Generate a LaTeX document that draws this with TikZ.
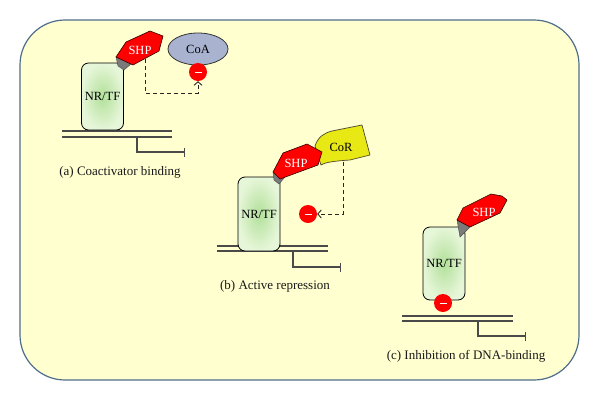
\documentclass[tikz,border=0pt]{standalone}
\usepackage{fontspec}
\setmainfont{Liberation Serif}
\usetikzlibrary{arrows.meta,shapes.geometric}
\definecolor{bgfill}{HTML}{FFFFD0}
\definecolor{bgline}{HTML}{4F6E8C}
\definecolor{nrin}{HTML}{B2E09A}
\definecolor{nrout}{HTML}{E6F6D8}
\definecolor{shpred}{HTML}{FF0000}
\definecolor{coafill}{HTML}{A9B3D0}
\definecolor{corfill}{HTML}{E8E814}
\definecolor{dnacol}{HTML}{4A4A4A}
\definecolor{linkgray}{HTML}{7A7A7A}
\begin{document}
\begin{tikzpicture}[x=1pt,y=-1pt,
  nrtf/.style={draw=black, line width=0.8pt, rounded corners=7pt, inner color=nrin, outer color=nrout,
    minimum width=42pt, font=\fontsize{12.5}{14}\selectfont, text=black, inner sep=0pt},
  shpbody/.style={fill=shpred, draw=black!80!red, line width=0.6pt, line join=round},
  shptext/.style={text=white, font=\fontsize{12.5}{14}\selectfont, inner sep=0pt},
  linker/.style={fill=linkgray, draw=black!70, line width=0.4pt},
  dnaline/.style={draw=dnacol, line width=1.3pt},
  promoter/.style={draw=dnacol, line width=1.3pt, -{Bar[width=9pt,line width=1.3pt]}},
  minusdot/.style={circle, fill=red, minimum size=18pt, inner sep=0pt,
    path picture={\draw[white, line width=0.9pt] ([xshift=-3.5pt]path picture bounding box.center) -- ([xshift=3.5pt]path picture bounding box.center);}},
  inhib/.style={draw=black!85, line width=0.9pt, dash pattern=on 4pt off 3pt, -{Straight Barb[length=3.5pt,width=8pt]}},
  caption/.style={font=\fontsize{13}{15}\selectfont, text=black!90},
]
\useasboundingbox (0,0) rectangle (600,400);
\filldraw[fill=bgfill, draw=bgline, line width=1.2pt, rounded corners=45pt] (20,20) rectangle (579,380);

% ---------- panel (a) ----------
\coordinate (a1l) at (62,131); \coordinate (a1r) at (172,131);
\coordinate (a2l) at (62,137); \coordinate (a2r) at (172,137);
\draw[dnaline] (a1l) -- (a1r);
\draw[dnaline] (a2l) -- (a2r);
\coordinate (pa) at (137,137); \coordinate (pae) at (185,152);
\draw[promoter] (pa) |- (pae);
\node[nrtf, minimum height=67pt] (boxa) at (102.5,96.5) {NR/TF};
\filldraw[linker] (116,57) -- (131,64) -- (124,70) -- (118,66) -- cycle;
\filldraw[shpbody] (116,57) -- (126,42) -- (150,31) -- (163,36) -- (159,51) -- (133,65) -- cycle;
\node[shptext] (shpa) at (140,50) {SHP};
\node[ellipse, draw=black!80, line width=0.8pt, fill=coafill, minimum width=60pt, minimum height=32pt,
      font=\fontsize{12.5}{14}\selectfont, inner sep=0pt] (coa) at (198,49) {CoA};
\node[minusdot] (ma) at (198,72) {};
\coordinate (da) at (145,59);
\draw[inhib] (da) -- (145,93) -| (ma.south);
\node[caption] (capa) at (120,172) {(a) Coactivator binding};

% ---------- panel (b) ----------
\coordinate (b1l) at (217,246); \coordinate (b1r) at (328,246);
\coordinate (b2l) at (217,251); \coordinate (b2r) at (328,251);
\draw[dnaline] (b1l) -- (b1r);
\draw[dnaline] (b2l) -- (b2r);
\coordinate (pb) at (293,251); \coordinate (pbe) at (341,267);
\draw[promoter] (pb) |- (pbe);
\node[nrtf, minimum height=74pt] (boxb) at (259,214) {NR/TF};
\filldraw[fill=corfill, draw=black!60!olive, line width=0.7pt, line join=round]
  (315,146) .. controls (318,137) and (324,133) .. (332,131) -- (362,125) -- (370,155) -- (350,160)
  .. controls (335,161) and (326,162) .. (321,165) -- cycle;
\node[font=\fontsize{12.5}{14}\selectfont, inner sep=0pt] (cor) at (341,147) {CoR};
\filldraw[linker] (273,172) -- (285,177) -- (279,184) -- (274,180) -- cycle;
\filldraw[shpbody] (273,172) -- (283,153) -- (307,144) -- (322,152) -- (318,165) -- (280,179) -- cycle;
\node[shptext] (shpb) at (296,163) {SHP};
\node[minusdot] (mb) at (308,214) {};
\coordinate (db) at (343,162);
\draw[inhib] (db) -- (343,214) -- (mb.east);
\node[caption] (capb) at (275,286) {(b) Active repression};

% ---------- panel (c) ----------
\coordinate (c1l) at (402,316); \coordinate (c1r) at (513,316);
\coordinate (c2l) at (402,321); \coordinate (c2r) at (513,321);
\draw[dnaline] (c1l) -- (c1r);
\draw[dnaline] (c2l) -- (c2r);
\coordinate (pc) at (478,321); \coordinate (pce) at (526,336);
\draw[promoter] (pc) |- (pce);
\node[nrtf, minimum height=73pt] (boxc) at (444,263.5) {NR/TF};
\filldraw[linker] (457,220) -- (470,227) -- (460,237) -- cycle;
\filldraw[shpbody] (457,220) -- (463,208) -- (491,194) -- (502,196) -- (507,200) -- (500,213) -- (470,227) -- cycle;
\node[shptext] (shpc) at (484,212) {SHP};
\node[minusdot] (mc) at (443,303) {};
\node[caption] (capc) at (466,356) {(c) Inhibition of DNA-binding};
\end{tikzpicture}
\end{document}
